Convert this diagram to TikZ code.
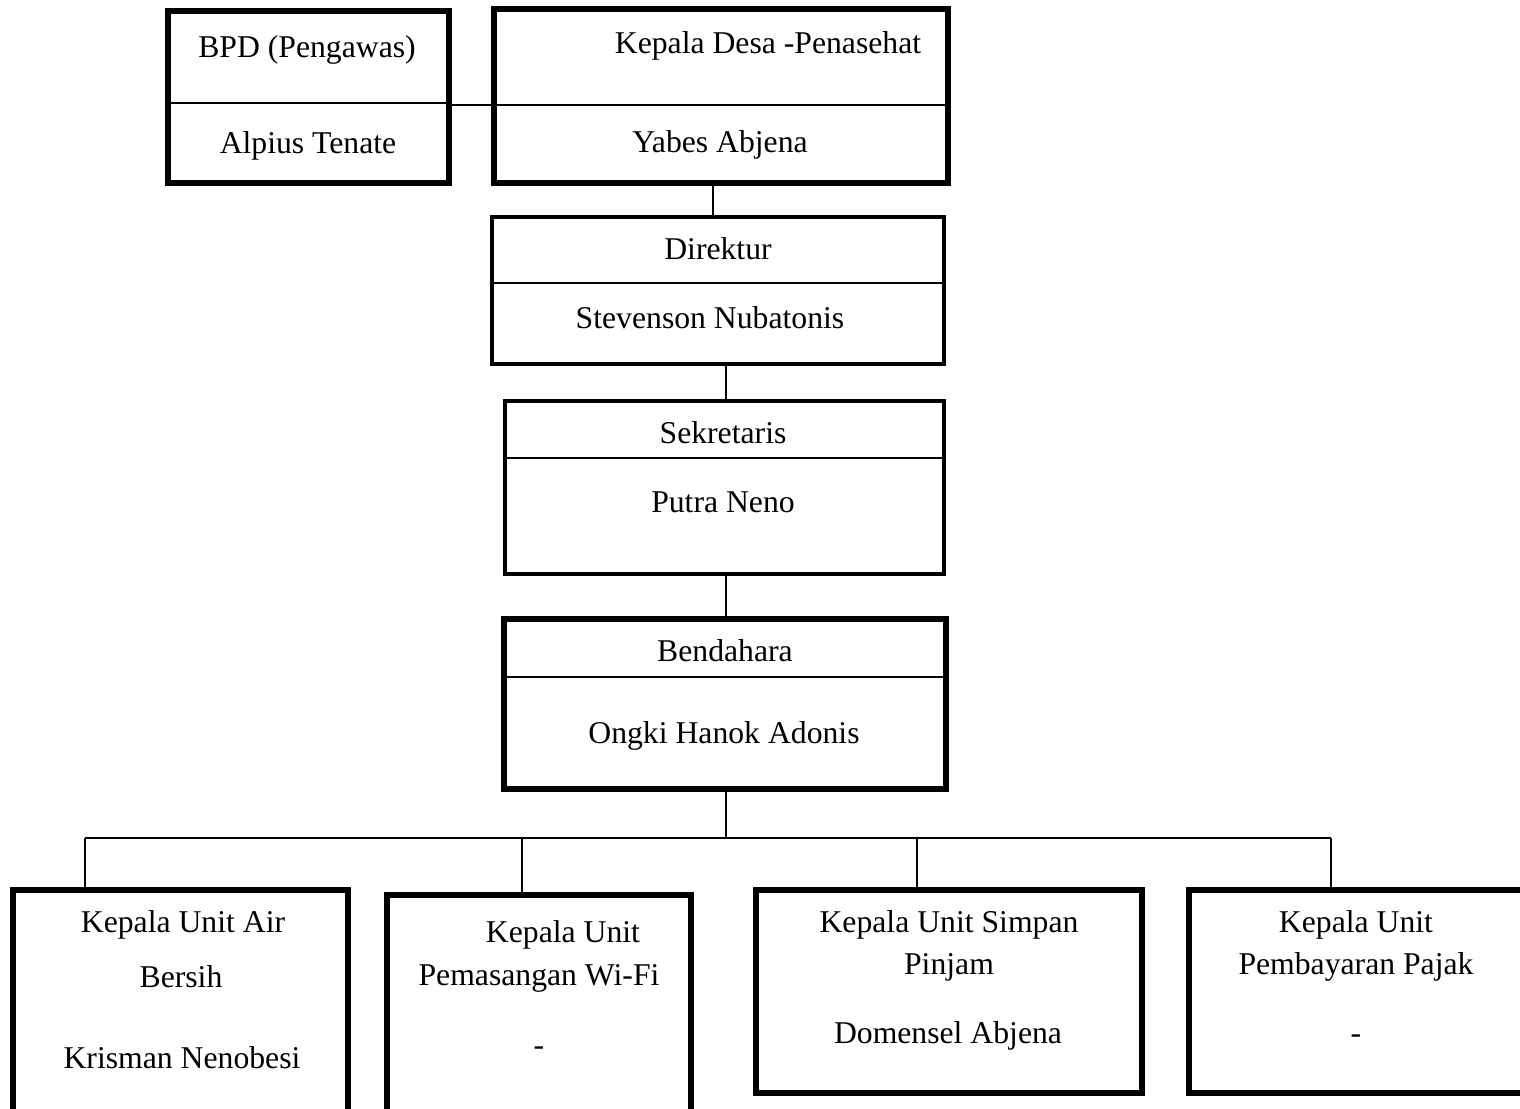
\documentclass[tikz,border=0pt]{standalone}
\usepackage{fontspec}
\setmainfont{Liberation Serif}
\usetikzlibrary{positioning}

\tikzset{
  post/.style={draw, rectangle, inner sep=0pt, line width=6pt},
  thinpost/.style={post, line width=4.3pt},
  lbl/.style={anchor=base, inner sep=0pt, font=\fontsize{31.7}{38}\selectfont},
  divider/.style={line width=1.8pt},
  link/.style={line width=1.6pt},
}

\begin{document}
\begin{tikzpicture}[x=1pt, y=-1pt]
    \useasboundingbox (0,0) rectangle (1520,1108);
    % boxes
    \node[post, minimum width=281pt, minimum height=172pt] (bpd) at (308.5,97) {};
    \node[post, minimum width=454pt, minimum height=174pt] (kades) at (721,96) {};
    \node[thinpost, minimum width=452pt, minimum height=147pt] (dir) at (718,290.5) {};
    \node[thinpost, minimum width=439pt, minimum height=173pt] (sek) at (724.5,487.5) {};
    \node[post, minimum width=442pt, minimum height=170pt] (ben) at (725,704) {};
    \node[post, minimum width=335pt, minimum height=225pt] (air) at (180.5,1002.5) {};
    \node[post, minimum width=304pt, minimum height=220pt] (wifi) at (539,1005) {};
    \node[post, minimum width=386pt, minimum height=203pt] (simpan) at (949,991.5) {};
    \node[post, minimum width=341pt, minimum height=203pt] (pajak) at (1359.5,991.5) {};

    \draw[divider] (bpd.west |- 0,103) -- (bpd.east |- 0,103);
    \draw[divider] (kades.west |- 0,105) -- (kades.east |- 0,105);
    \draw[divider] (dir.west |- 0,283) -- (dir.east |- 0,283);
    \draw[divider] (sek.west |- 0,458) -- (sek.east |- 0,458);
    \draw[divider] (ben.west |- 0,677) -- (ben.east |- 0,677);

    % texts
    \node[lbl] (bpdrole) at (307,57) {BPD (Pengawas)};
    \node[lbl] (bpdname) at (308,153) {Alpius Tenate};
    \node[lbl] (kadesrole) at (768,53) {Kepala Desa -Penasehat};
    \node[lbl] (kadesname) at (720,152) {Yabes Abjena};
    \node[lbl] (dirrole) at (718,259) {Direktur};
    \node[lbl] (dirname) at (710,328) {Stevenson Nubatonis};
    \node[lbl] (sekrole) at (723,443) {Sekretaris};
    \node[lbl] (sekname) at (723,512) {Putra Neno};
    \node[lbl] (benrole) at (725,661) {Bendahara};
    \node[lbl] (benname) at (724,743) {Ongki Hanok Adonis};
    \node[lbl] (airrole) at (183,932) {Kepala Unit Air};
    \node[lbl] (airrolb) at (181,987) {Bersih};
    \node[lbl] (airname) at (182,1068) {Krisman Nenobesi};
    \node[lbl] (wifirole) at (563,942) {Kepala Unit};
    \node[lbl] (wifirolb) at (539,985) {Pemasangan Wi-Fi};
    \node[lbl] (wifiname) at (539,1055) {-};
    \node[lbl] (simpanrole) at (949,932) {Kepala Unit Simpan};
    \node[lbl] (simpanrolb) at (949,974) {Pinjam};
    \node[lbl] (simpanname) at (948,1043) {Domensel Abjena};
    \node[lbl] (pajakrole) at (1356,932) {Kepala Unit};
    \node[lbl] (pajakrolb) at (1356,974) {Pembayaran Pajak};
    \node[lbl] (pajakname) at (1356,1043) {-};

    % connectors
    \coordinate (bus) at (726,838);
    \coordinate (busL) at (85,838);
    \coordinate (busR) at (1331,838);
    \coordinate (dropwifi) at (522,838);
    \coordinate (dropsimpan) at (917,838);
    \draw[link] (bpd.east |- 0,105) -- (kades.west |- 0,105);
    \draw[link] (kades.south -| 713,0) -- (dir.north -| 713,0);
    \draw[link] (dir.south -| 726,0) -- (sek.north -| 726,0);
    \draw[link] (sek.south -| 726,0) -- (ben.north -| 726,0);
    \draw[link] (ben.south -| bus) -- (bus);
    \draw[link] (busL) -- (busR);
    \draw[link] (busL) -- (air.north -| busL);
    \draw[link] (dropwifi) -- (wifi.north -| dropwifi);
    \draw[link] (dropsimpan) -- (simpan.north -| dropsimpan);
    \draw[link] (busR) -- (pajak.north -| busR);
\end{tikzpicture}
\end{document}
